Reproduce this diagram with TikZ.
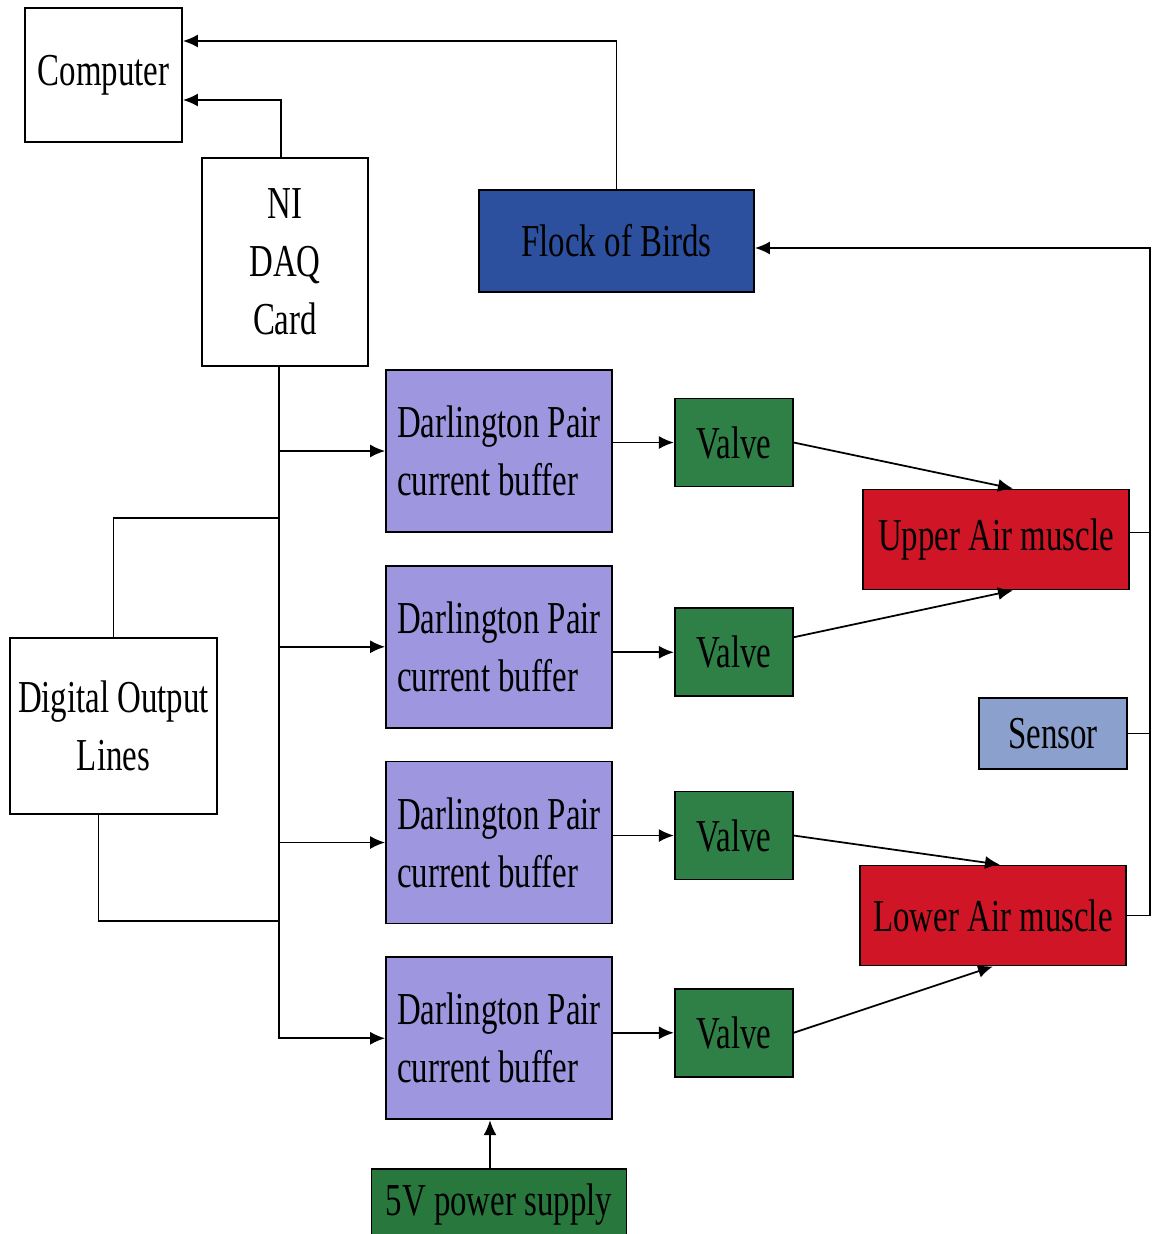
\documentclass[tikz,border=0pt]{standalone}
\usepackage{fontspec}
\setmainfont{Liberation Serif}[FakeStretch=0.72]
\usepackage{xcolor}
\usepackage{tikz}
\usetikzlibrary{arrows.meta, positioning}
\definecolor{corBuffer}{RGB}{158,150,222}
\definecolor{corValve}{RGB}{46,128,70}
\definecolor{corMuscle}{RGB}{208,22,38}
\definecolor{corFlock}{RGB}{44,80,158}
\definecolor{corSensor}{RGB}{140,160,205}
\definecolor{corSupply}{RGB}{40,120,62}

\begin{document}
\begin{tikzpicture}[
      >={Latex[length=3mm, width=2.6mm]},
      block/.style={rectangle, draw=black, line width=1pt, align=center, inner sep=2pt,
        font=\fontsize{26}{33}\selectfont},
      buffer/.style={block, fill=corBuffer, minimum width=4.52cm, minimum height=3.24cm, align=left},
      valve/.style={block, fill=corValve, minimum width=2.36cm, minimum height=1.76cm},
      muscle/.style={block, fill=corMuscle, minimum width=5.32cm, minimum height=2.0cm},
      wire/.style={line width=1pt},
      arrow/.style={->, line width=1pt}]
    \useasboundingbox (0,0) rectangle (23.04,-24.68);
    \node[block, minimum width=3.14cm, minimum height=2.68cm] (comp) at (2.07,-1.50) {Computer};
    \node[block, minimum width=3.32cm, minimum height=4.16cm] (daq) at (5.70,-5.24) {NI\\DAQ\\Card};
    \node[block, fill=corFlock, minimum width=5.50cm, minimum height=2.04cm] (fob) at (12.33,-4.82) {Flock of Birds};
    \node[block, minimum width=4.14cm, minimum height=3.52cm] (dol) at (2.27,-14.52) {Digital Output\\Lines};
    \node[buffer] (dp1) at (9.98,-9.02) {Darlington Pair\\current buffer};
    \node[buffer, below=0.64cm of dp1] (dp2) {Darlington Pair\\current buffer};
    \node[buffer, below=0.64cm of dp2] (dp3) {Darlington Pair\\current buffer};
    \node[buffer, below=0.64cm of dp3] (dp4) {Darlington Pair\\current buffer};
    \node[valve, right=1.22cm of dp1, yshift=0.17cm] (v1) {Valve};
    \node[valve, right=1.22cm of dp2, yshift=-0.11cm] (v2) {Valve};
    \node[valve, right=1.22cm of dp3, yshift=0.14cm] (v3) {Valve};
    \node[valve, right=1.22cm of dp4, yshift=0.11cm] (v4) {Valve};
    \node[muscle] (um) at (19.92,-10.79) {Upper Air muscle};
    \node[muscle] (lm) at (19.86,-18.31) {Lower Air muscle};
    \node[block, fill=corSensor, minimum width=2.96cm, minimum height=1.42cm] (sen) at (21.06,-14.67) {Sensor};
    \node[block, fill=corSupply, minimum width=5.10cm, minimum height=1.44cm, below=0.96cm of dp4] (ps) {5V power supply};
    % feedback to the computer
    \draw[arrow] (fob.north) |- ([yshift=0.68cm]comp.east);
    \draw[arrow] ([xshift=-0.08cm]daq.north) |- ([yshift=-0.5cm]comp.east);
    % output bus
    \coordinate (bus) at ([xshift=-0.12cm]daq.south);
    \coordinate (jup) at (5.58,-10.36);
    \coordinate (jdn) at (5.58,-18.42);
    \draw[arrow] (bus) |- (dp4.west);
    \foreach \i in {1,2,3} \draw[arrow] (bus |- dp\i.west) -- (dp\i.west);
    \draw[wire] (dol.north) |- (jup);
    \draw[wire] ([xshift=-0.3cm]dol.south) |- (jdn);
    % buffers, valves, muscles
    \foreach \i in {1,...,4} \draw[arrow] (dp\i.east |- v\i.west) -- (v\i.west);
    \draw[arrow] (v1.east) -- ([xshift=0.34cm]um.north);
    \draw[arrow] ([yshift=0.3cm]v2.east) -- ([xshift=0.34cm]um.south);
    \draw[arrow] (v3.east) -- ([xshift=0.14cm]lm.north);
    \draw[arrow] (v4.east) -- (lm.south);
    \coordinate (psin) at ([xshift=-0.18cm]ps.north);
    \draw[arrow] (psin) -- (psin |- dp4.south);
    % right rail to the tracker
    \coordinate (rail) at (23.0,-4.96);
    \draw[arrow] (lm.east) -| (rail) -- (fob.east |- rail);
    \draw[wire] ([yshift=0.14cm]um.east) -| (rail);
    \draw[wire] (sen.east) -| (rail);
  \end{tikzpicture}
\end{document}
